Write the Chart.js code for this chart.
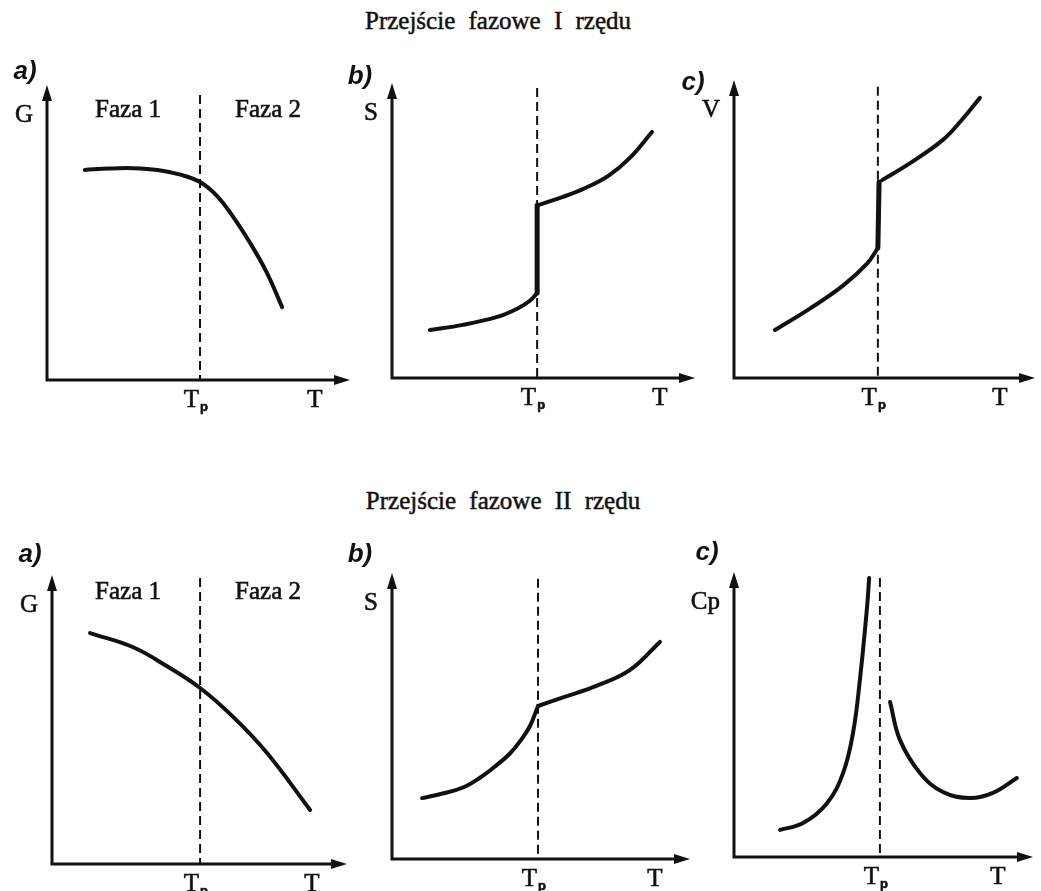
<!DOCTYPE html>
<html>
<head>
<meta charset="utf-8">
<script src="https://cdn.jsdelivr.net/npm/chart.js@4.4.1/dist/chart.umd.min.js"></script>
<style>
body{margin:0;background:#fff;width:1041px;height:891px;position:relative;overflow:hidden}
canvas{position:absolute}
.title{position:absolute;font-family:"Liberation Serif",serif;font-size:25px;color:#111;word-spacing:7px;white-space:nowrap;transform:translateX(-50%);-webkit-text-stroke:0.5px #111}
</style>
</head>
<body>
<div class="title" style="left:498px;top:7px">Przejście fazowe I rzędu</div>
<div class="title" style="left:503px;top:487px">Przejście fazowe II rzędu</div>
<script>
// T: 0 = vertical axis, 100 = arrow tip; values: 0 = T axis, 100 = arrow tip
const tpAt = [50.5, 47.9, 47.8, 50.2, 49.0, 48.8]
const dashTop = [96.6, 98.3, 97.7, 99, 98, 97.9]
const yLabels = ['G', 'S', 'V', 'G', 'S', 'Cp']
const letters = ['a)', 'b)', 'c)', 'a)', 'b)', 'c)']

// I rzedu
const g1T = [12.5, 20.5, 28.5, 36.5, 44, 50.5, 56, 61.5, 67, 72.5, 77.6]
const g1 = [71.2, 71.7, 71.8, 71.2, 69.6, 67.1, 62.5, 55.2, 46.5, 36.5, 24.7]

const s1LowT = [12.5, 23.4, 34.7, 41.3, 45.5, 47.9]
const s1Low = [16.3, 18.0, 20.7, 23.5, 26.2, 28.8]
const s1JumpT = [47.9, 47.9]
const s1Jump = [28.8, 58.6]
const s1HighT = [48.2, 56.4, 64, 71.5, 78.5, 85.8]
const s1High = [58.6, 61.4, 64.5, 68.6, 74.6, 83.4]

const v1LowT = [13.6, 25.2, 36.2, 44.2, 47.8]
const v1Low = [16.1, 23.3, 31.0, 38.4, 43.6]
const v1JumpT = [47.8, 48.2]
const v1Jump = [43.6, 65.8]
const v1HighT = [49.2, 58.5, 69.4, 75.5, 81.7]
const v1High = [66.4, 72.1, 79.9, 86.4, 94.0]

// II rzedu
const g2T = [12.9, 27.5, 39.0, 50.2, 61.4, 72.9, 87.5]
const g2 = [79.9, 75.0, 68.4, 60.9, 50.9, 38.4, 18.7]

const s2LowT = [10.1, 17, 23.8, 29.5, 35.2, 39.5, 43.0, 46.3, 49.0]
const s2Low = [21.3, 22.9, 25.0, 28.4, 32.9, 36.8, 41.2, 46.5, 53.5]
const s2HighT = [49.0, 57.4, 68.8, 79.9, 89.9]
const s2High = [53.5, 56.5, 60.6, 66.1, 75.9]

const cpLowT = [15.4, 23.1, 31.1, 36.5, 39.8, 42.1, 44.5, 45.2]
const cpLow = [9.5, 11.9, 18.9, 29.5, 43.5, 62.1, 87.7, 97.9]
const cpHighT = [52.2, 55.5, 62.2, 69.9, 78.9, 86.6, 94.6]
const cpHigh = [54.4, 41.1, 29.5, 22.8, 20.7, 22.5, 27.7]

const ink = '#111'
const pts = (t, v) => t.map((x, i) => ({x: x, y: v[i]}))

// page boxes of the axes: [left, right, top, bottom], label nudges
const panels = [
    {area: [47, 350, 85, 380], letter: [-22, -13], faza: 25, series: [[g1T, g1]]},
    {area: [392, 695, 83, 378], letter: [-32, -6], series: [[s1LowT, s1Low], [s1JumpT, s1Jump, 5], [s1HighT, s1High]]},
    {area: [734, 1035, 80, 378], letter: [-41, 3], series: [[v1LowT, v1Low], [v1JumpT, v1Jump, 5], [v1HighT, v1High]]},
    {area: [52, 347, 575, 864], letter: [-22, -20], faza: 17, series: [[g2T, g2]]},
    {area: [392, 690, 573, 859], letter: [-32, -18], series: [[s2LowT, s2Low], [s2HighT, s2High]]},
    {area: [734, 1033, 572, 857], letter: [-27, -19], series: [[cpLowT, cpLow], [cpHighT, cpHigh]]}
]

function inkText(ctx, s, x, y){
    ctx.fillText(s, x, y)
    ctx.strokeText(s, x, y)
}

const frame = {
    id: 'frame',
    beforeDatasetsDraw(chart, args, o){
        const {ctx, chartArea: a, scales: {x, y}} = chart
        const px = x.getPixelForValue(o.tp)
        ctx.save()
        ctx.strokeStyle = ink
        ctx.lineWidth = 2
        ctx.setLineDash([9, 5])
        ctx.beginPath()
        ctx.moveTo(px, y.getPixelForValue(o.top))
        ctx.lineTo(px, a.bottom)
        ctx.stroke()
        ctx.restore()
    },
    afterDatasetsDraw(chart, args, o){
        const {ctx, chartArea: a, scales: {x}} = chart
        const px = x.getPixelForValue(o.tp)
        ctx.save()
        ctx.strokeStyle = ink
        ctx.fillStyle = ink
        ctx.lineWidth = 3
        ctx.beginPath()
        ctx.moveTo(a.left, a.top + 10)
        ctx.lineTo(a.left, a.bottom)
        ctx.lineTo(a.right - 10, a.bottom)
        ctx.stroke()
        ctx.beginPath()
        ctx.moveTo(a.left, a.top)
        ctx.lineTo(a.left - 5, a.top + 16)
        ctx.lineTo(a.left + 5, a.top + 16)
        ctx.fill()
        ctx.beginPath()
        ctx.moveTo(a.right, a.bottom)
        ctx.lineTo(a.right - 16, a.bottom - 5)
        ctx.lineTo(a.right - 16, a.bottom + 5)
        ctx.fill()

        ctx.lineWidth = 0.6
        ctx.font = '25px "Liberation Serif"'
        ctx.textBaseline = 'middle'
        ctx.textAlign = 'right'
        inkText(ctx, o.yLabel, a.left - 14, a.top + 30)
        ctx.textBaseline = 'alphabetic'
        ctx.textAlign = 'center'
        inkText(ctx, 'T', a.right - 35, a.bottom + 27)
        ctx.textAlign = 'right'
        inkText(ctx, 'T', px - 1, a.bottom + 27)
        ctx.font = 'bold 13px "Liberation Sans"'
        ctx.textAlign = 'left'
        inkText(ctx, 'p', px, a.bottom + 31)
        if (o.faza !== undefined) {
            ctx.font = '25px "Liberation Serif"'
            ctx.textAlign = 'center'
            ctx.textBaseline = 'middle'
            inkText(ctx, 'Faza 1', px - 72, a.top + o.faza)
            inkText(ctx, 'Faza 2', px + 68, a.top + o.faza)
        }
        ctx.font = 'italic bold 26px "Liberation Sans"'
        ctx.textAlign = 'center'
        ctx.textBaseline = 'middle'
        ctx.fillText(o.letter, a.left + o.letterAt[0], a.top + o.letterAt[1])
        ctx.restore()
    }
}

const padL = 65, padT = 45, padR = 10, padB = 40

panels.forEach((p, i) => {
    const [x0, x1, yt, yb] = p.area
    const cv = document.createElement('canvas')
    cv.width = x1 - x0 + padL + padR
    cv.height = yb - yt + padT + padB
    cv.style.left = (x0 - padL) + 'px'
    cv.style.top = (yt - padT) + 'px'
    document.body.appendChild(cv)
    new Chart(cv, {
        type: 'line',
        data: {
            datasets: p.series.map(s => ({
                data: pts(s[0], s[1]),
                borderColor: ink,
                borderWidth: s[2] || 4,
                borderCapStyle: 'round',
                borderJoinStyle: 'round',
                pointRadius: 0,
                tension: s[2] ? 0 : 0.4,
                fill: false
            }))
        },
        options: {
            responsive: false,
            animation: false,
            layout: {padding: {left: padL, top: padT, right: padR, bottom: padB}},
            scales: {
                x: {type: 'linear', min: 0, max: 100, display: false},
                y: {min: 0, max: 100, display: false}
            },
            plugins: {
                legend: {display: false},
                tooltip: {enabled: false},
                frame: {tp: tpAt[i], top: dashTop[i], yLabel: yLabels[i], letter: letters[i], letterAt: p.letter, faza: p.faza}
            }
        },
        plugins: [frame]
    })
})
</script>
</body>
</html>
